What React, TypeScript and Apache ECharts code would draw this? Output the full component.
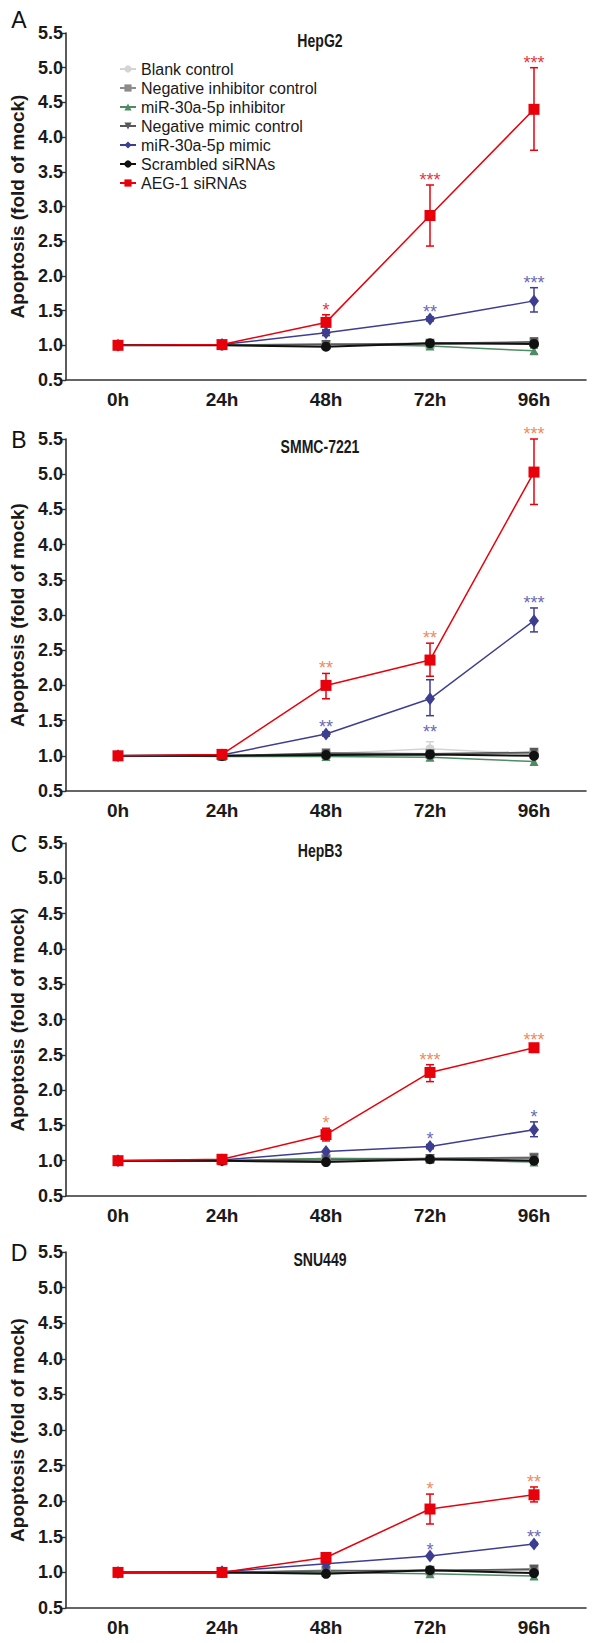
import React, { useEffect, useRef } from 'react';
import * as echarts from 'echarts';

const times = ['0h', '24h', '48h', '72h', '96h'];
const seriesNames = [
  'Blank control',
  'Negative inhibitor control',
  'miR-30a-5p inhibitor',
  'Negative mimic control',
  'miR-30a-5p mimic',
  'Scrambled siRNAs',
  'AEG-1 siRNAs',
];
const panelTitles = ['HepG2', 'SMMC-7221', 'HepB3', 'SNU449'];
const panelLetters = ['A', 'B', 'C', 'D'];

// Means, one row per series (order as seriesNames)
const hepg2Means = [
  [1.0, 1.0, 1.02, 1.02, 1.03],
  [1.0, 1.0, 1.01, 1.02, 1.04],
  [1.0, 1.0, 1.02, 0.99, 0.92],
  [1.0, 1.0, 1.01, 1.03, 1.05],
  [1.0, 1.01, 1.18, 1.38, 1.64],
  [1.0, 1.0, 0.98, 1.03, 1.02],
  [1.0, 1.01, 1.33, 2.87, 4.4],
];
const smmcMeans = [
  [1.0, 1.0, 1.03, 1.1, 1.02],
  [1.0, 1.0, 1.02, 1.02, 1.04],
  [1.0, 0.99, 0.99, 0.98, 0.92],
  [1.0, 1.0, 1.04, 1.03, 1.05],
  [1.0, 1.01, 1.31, 1.81, 2.92],
  [1.0, 1.0, 1.01, 1.02, 1.0],
  [1.0, 1.02, 2.0, 2.36, 5.03],
];
const hepb3Means = [
  [1.0, 1.0, 1.02, 1.03, 1.02],
  [1.0, 1.0, 1.03, 1.03, 1.05],
  [1.0, 1.0, 1.03, 1.02, 0.98],
  [1.0, 1.0, 1.01, 1.03, 1.04],
  [1.0, 1.01, 1.13, 1.2, 1.44],
  [1.0, 1.0, 0.98, 1.02, 1.0],
  [1.0, 1.02, 1.37, 2.25, 2.6],
];
const snu449Means = [
  [1.0, 1.0, 1.02, 1.02, 1.03],
  [1.0, 1.0, 1.03, 1.02, 1.05],
  [1.0, 0.99, 1.0, 0.98, 0.95],
  [1.0, 1.0, 1.02, 1.03, 1.04],
  [1.0, 1.01, 1.12, 1.23, 1.4],
  [1.0, 1.0, 0.98, 1.03, 0.99],
  [1.0, 1.0, 1.21, 1.89, 2.09],
];

// Error bars: [seriesIndex, timeIndex, low, high]
const hepg2Errors = [
  [6, 2, 1.22, 1.44], [6, 3, 2.43, 3.31], [6, 4, 3.81, 5.0],
  [4, 2, 1.14, 1.22], [4, 3, 1.35, 1.41], [4, 4, 1.48, 1.83],
  [3, 4, 0.99, 1.1], [2, 4, 0.88, 0.96],
];
const smmcErrors = [
  [6, 2, 1.81, 2.17], [6, 3, 2.13, 2.6], [6, 4, 4.57, 5.5],
  [4, 2, 1.28, 1.34], [4, 3, 1.57, 2.08], [4, 4, 2.76, 3.1],
  [0, 3, 1.0, 1.2], [3, 4, 0.98, 1.09], [3, 2, 0.98, 1.07],
];
const hepb3Errors = [
  [6, 2, 1.28, 1.46], [6, 3, 2.12, 2.36], [6, 4, 2.56, 2.64],
  [4, 3, 1.17, 1.23], [4, 4, 1.34, 1.55], [1, 4, 1.0, 1.09],
];
const snu449Errors = [
  [6, 2, 1.17, 1.24], [6, 3, 1.68, 2.1], [6, 4, 1.99, 2.2],
  [4, 4, 1.38, 1.42], [3, 4, 0.98, 1.09],
];

// Significance marks: [seriesIndex, timeIndex, anchorValue, text, side]
const hepg2Stars = [
  [6, 2, 1.44, '*', 'up'], [6, 3, 3.31, '***', 'up'], [6, 4, 5.0, '***', 'up'],
  [4, 3, 1.41, '**', 'up'], [4, 4, 1.83, '***', 'up'],
];
const smmcStars = [
  [6, 2, 2.17, '**', 'up'], [6, 3, 2.6, '**', 'up'], [6, 4, 5.5, '***', 'up'],
  [4, 2, 1.34, '**', 'up'], [4, 3, 1.57, '**', 'down'], [4, 4, 3.1, '***', 'up'],
];
const hepb3Stars = [
  [6, 2, 1.46, '*', 'up'], [6, 3, 2.36, '***', 'up'], [6, 4, 2.64, '***', 'up'],
  [4, 3, 1.23, '*', 'up'], [4, 4, 1.55, '*', 'up'],
];
const snu449Stars = [
  [6, 3, 2.1, '*', 'up'], [6, 4, 2.2, '**', 'up'],
  [4, 3, 1.25, '*', 'up'], [4, 4, 1.42, '**', 'up'],
];

const panelMeans = [hepg2Means, smmcMeans, hepb3Means, snu449Means];
const panelErrors = [hepg2Errors, smmcErrors, hepb3Errors, snu449Errors];
const panelStars = [hepg2Stars, smmcStars, hepb3Stars, snu449Stars];

const seriesColors = ['#d4d4d4', '#8c8c8c', '#4e8c63', '#585858', '#3e3e90', '#111111', '#e8000b'];
const seriesSymbols = ['circle', 'rect', 'triangle', 'path://M0,0 L10,0 L5,10 Z', 'diamond', 'circle', 'rect'];
const seriesSizes: any[] = [9, 9, 9, 9, [10, 13], 10, 11];
const redStarColors = ['#e2383f', '#f08a5d', '#f08a5d', '#f08a5d'];
const blueStarColor = '#6a6ab2';

const grids = [
  { top: 33, height: 347 },
  { top: 439, height: 352 },
  { top: 843, height: 353 },
  { top: 1252, height: 356 },
];
const AXIS_LEFT = 66;
const AXIS_RIGHT = 586;
const W = 600;
const H = 1643;

const boldFont = '"Liberation Sans", Arial, sans-serif';
const regular = '"Liberation Sans", Arial, sans-serif';

export default function App() {
  const ref = useRef<HTMLDivElement>(null);
  useEffect(() => {
    if (!ref.current) return;
    const chart = echarts.init(ref.current, null, { renderer: 'svg' });

    const gridOpts = grids.map((g) => ({
      left: AXIS_LEFT,
      right: W - AXIS_RIGHT,
      top: g.top,
      height: g.height,
      containLabel: false,
    }));

    const xAxes = grids.map((_, i) => ({
      type: 'category',
      gridIndex: i,
      data: times,
      boundaryGap: true,
      axisLine: { lineStyle: { color: '#333', width: 1.6 } },
      axisTick: { alignWithLabel: true, length: 4, lineStyle: { color: '#333', width: 1.4 } },
      axisLabel: { color: '#1a1a1a', fontFamily: boldFont, fontWeight: 'bold', fontSize: 19, margin: 10 },
      splitLine: { show: false },
    }));

    const yAxes = grids.map((_, i) => ({
      type: 'value',
      gridIndex: i,
      min: 0.5,
      max: 5.5,
      interval: 0.5,
      name: 'Apoptosis (fold of mock)',
      nameLocation: 'middle',
      nameRotate: 90,
      nameGap: 28,
      nameTextStyle: { color: '#1a1a1a', fontFamily: regular, fontWeight: 'bold', fontSize: 19 },
      axisLine: { show: true, lineStyle: { color: '#333', width: 1.6 } },
      axisTick: { show: true, length: 4, lineStyle: { color: '#333', width: 1.4 } },
      axisLabel: {
        color: '#1a1a1a', fontFamily: boldFont, fontWeight: 'bold', fontSize: 18, margin: 3,
        formatter: (v: number) => v.toFixed(1),
      },
      splitLine: { show: false },
    }));

    const series: any[] = [];
    grids.forEach((_, p) => {
      const errs = panelErrors[p];
      series.push({
        type: 'custom',
        name: 'err' + p,
        xAxisIndex: p,
        yAxisIndex: p,
        silent: true,
        z: 2,
        encode: { x: 0, y: [1, 2] },
        data: errs.map((e) => [e[1], e[2], e[3]]),
        renderItem: (params: any, api: any) => {
          const e = errs[params.dataIndex];
          const color = seriesColors[e[0] as number];
          const x = api.value(0);
          const lo = api.coord([x, api.value(1)]);
          const hi = api.coord([x, api.value(2)]);
          const w = 4;
          const st = { stroke: color, lineWidth: 1.5 };
          return {
            type: 'group',
            children: [
              { type: 'line', shape: { x1: lo[0], y1: lo[1], x2: hi[0], y2: hi[1] }, style: st },
              { type: 'line', shape: { x1: lo[0] - w, y1: lo[1], x2: lo[0] + w, y2: lo[1] }, style: st },
              { type: 'line', shape: { x1: hi[0] - w, y1: hi[1], x2: hi[0] + w, y2: hi[1] }, style: st },
            ],
          };
        },
      });
      panelMeans[p].forEach((vals, i) => {
        series.push({
          type: 'line',
          name: seriesNames[i],
          xAxisIndex: p,
          yAxisIndex: p,
          data: vals,
          symbol: seriesSymbols[i],
          symbolSize: seriesSizes[i],
          showAllSymbol: true,
          z: 3,
          itemStyle: { color: seriesColors[i] },
          lineStyle: { color: seriesColors[i], width: i === 5 ? 2 : 1.5 },
          emphasis: { disabled: true },
        });
      });
      const stars = panelStars[p];
      series.push({
        type: 'custom',
        name: 'stars' + p,
        xAxisIndex: p,
        yAxisIndex: p,
        silent: true,
        z: 4,
        encode: { x: 0, y: 1 },
        data: stars.map((s) => [s[1], s[2]]),
        renderItem: (params: any, api: any) => {
          const s = stars[params.dataIndex];
          const pt = api.coord([api.value(0), api.value(1)]);
          const down = s[4] === 'down';
          const color = s[0] === 6 ? redStarColors[p] : blueStarColor;
          return {
            type: 'text',
            x: pt[0],
            y: down ? pt[1] + 16 : pt[1] - 5,
            style: {
              text: s[3] as string,
              fill: color,
              font: '18px "Liberation Sans", Arial, sans-serif',
              align: 'center',
              verticalAlign: 'middle',
            },
          };
        },
      });
    });

    const graphics: any[] = [];
    grids.forEach((g, p) => {
      graphics.push({
        type: 'text',
        x: 320,
        y: g.top + 8,
        scaleX: 0.74,
        style: {
          text: panelTitles[p],
          fill: '#1a1a1a',
          font: 'bold 19px ' + boldFont,
          align: 'center',
          verticalAlign: 'middle',
        },
      });
      graphics.push({
        type: 'text',
        x: 19,
        y: p === 0 ? g.top - 13 : g.top + 1,
        style: {
          text: panelLetters[p],
          fill: '#111',
          font: '23px ' + regular,
          align: 'center',
          verticalAlign: 'middle',
        },
      });
    });

    chart.setOption({
      animation: false,
      backgroundColor: '#ffffff',
      grid: gridOpts,
      xAxis: xAxes,
      yAxis: yAxes,
      legend: {
        data: seriesNames,
        orient: 'vertical',
        left: 114,
        top: 56,
        itemWidth: 16,
        itemHeight: 9,
        itemGap: 3,
        selectedMode: false,
        textStyle: { fontFamily: regular, fontSize: 16, color: '#1a1a1a' },
      },
      graphic: graphics,
      series,
    });
    return () => chart.dispose();
  }, []);
  return <div ref={ref} style={{ position: 'absolute', left: 0, top: 0, width: W, height: H, background: '#fff' }} />;
}
